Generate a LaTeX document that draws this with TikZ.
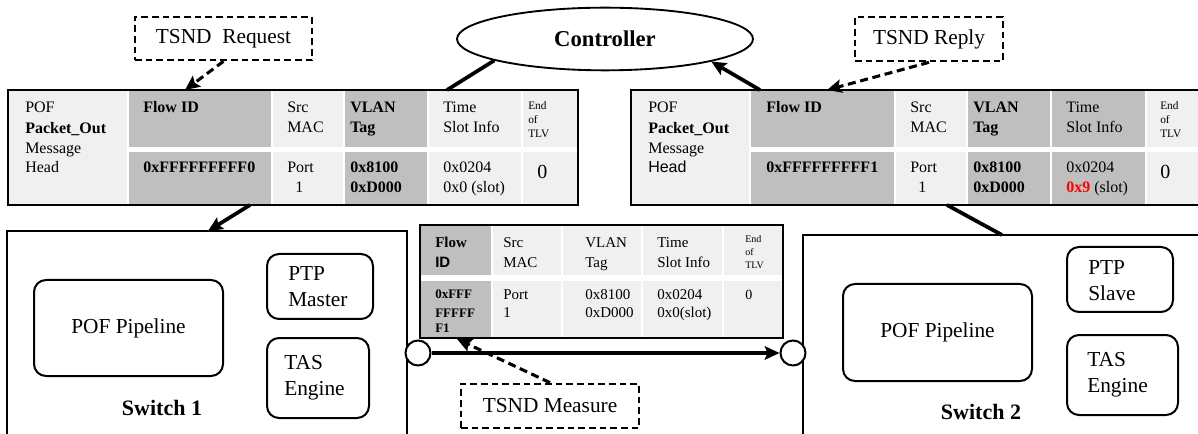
\documentclass[tikz,border=0pt]{standalone}
\usepackage{fontspec}
\setmainfont{Liberation Serif}
\setsansfont{Liberation Sans}
\usetikzlibrary{arrows.meta,shapes.geometric,fit}
\definecolor{dg}{HTML}{BFBFBF}
\definecolor{lg}{HTML}{F0F0F0}
\newcommand\cellr[5]{\fill[#5] ({#1+1.2},#2) rectangle ({#3-1.2},#4);}
\newcommand\mytx[5][]{\node[tx,#1] (#2) at (#3,#4) {#5};}
\begin{document}
\begin{tikzpicture}[x=0.75pt,y=-0.75pt,
  tx/.style={anchor=base west,inner sep=0pt,font=\fontsize{12}{14}\selectfont},
  sm/.style={font=\fontsize{8.5}{9}\selectfont},
  big/.style={font=\fontsize{15}{16}\selectfont},
  mid/.style={font=\fontsize{11.25}{13}\selectfont},
  midb/.style={font=\fontsize{9.75}{11}\selectfont\bfseries},
  midbig/.style={font=\fontsize{10.5}{12}\selectfont},
  frame/.style={draw=black,line width=1.6pt,inner sep=0pt},
  callout/.style={draw=black,line width=2pt,dash pattern=on 5pt off 3pt,inner sep=0pt,font=\fontsize{16}{19}\selectfont},
  swbox/.style={draw=black,line width=1.5pt,inner sep=0pt},
  unitbox/.style={draw=black,line width=1.5pt,rounded corners=9pt,inner sep=0pt,font=\fontsize{16}{19}\selectfont},
  unittext/.style={align=left,anchor=west,inner sep=0pt,font=\fontsize{16}{19.5}\selectfont},
  swlabel/.style={inner sep=0pt,font=\fontsize{16.5}{20}\selectfont\bfseries},
  port/.style={circle,draw=black,line width=1.5pt,fill=white,minimum size=18.75pt,inner sep=0pt},
  thickarr/.style={line width=2.8pt,-{Stealth[length=11pt,width=10pt,inset=2pt]}},
  thickln/.style={line width=2.8pt},
  dasharr/.style={line width=2.3pt,dash pattern=on 6pt off 3.5pt,-{Stealth[length=11pt,width=10pt,inset=2pt]}}
]
\useasboundingbox (0,0) rectangle (1198,434);
\fill[white] (0,0) rectangle (1198,434);
\begin{scope}
\clip (0,0) rectangle (1198,434);

% ---------- left table ----------
\fill[white] (8,90) rectangle (578,205);
\fill[lg] (8,90) rectangle (126.8,205);
\cellr{128}{90}{272}{147.5}{dg}  \cellr{128}{152.5}{272}{205}{dg}
\cellr{272}{90}{344}{147.5}{lg}  \cellr{272}{152.5}{344}{205}{lg}
\cellr{344}{90}{428}{147.5}{dg}  \cellr{344}{152.5}{428}{205}{dg}
\cellr{428}{90}{522}{147.5}{lg}  \cellr{428}{152.5}{522}{205}{lg}
\cellr{522}{90}{579}{147.5}{lg}  \cellr{522}{152.5}{579}{205}{lg}
\node[frame,fit={(8,90) (578,205)}] (lt) {};
\mytx{La1}{25}{113}{POF}
\mytx{La2}{25}{134}{\bfseries Packet\_Out}
\mytx{La3}{25}{154}{Message}
\mytx{La4}{25}{173}{Head}
\mytx{Lb1}{143}{113}{\bfseries Flow ID}
\mytx{Lb2}{143}{173}{\bfseries 0xFFFFFFFFF0}
\mytx{Lc1}{287}{113}{Src}
\mytx{Lc2}{287}{133}{MAC}
\mytx{Lc3}{287}{173}{Port}
\mytx{Lc4}{295}{193}{1}
\mytx{Ld1}{350}{113}{\bfseries VLAN}
\mytx{Ld2}{350}{133}{\bfseries Tag}
\mytx{Ld3}{350}{173}{\bfseries 0x8100}
\mytx{Ld4}{350}{193}{\bfseries 0xD000}
\mytx{Le1}{443}{113}{Time}
\mytx{Le2}{443}{133}{Slot Info}
\mytx{Le3}{443}{173}{0x0204}
\mytx{Le4}{443}{193}{0x0 (slot)}
\mytx[sm]{Lf1}{528}{110}{End}
\mytx[sm]{Lf2}{528}{124}{of}
\mytx[sm]{Lf3}{528}{138}{TLV}
\mytx[big]{Lf4}{537}{179}{0}

% ---------- right table ----------
\fill[white] (631,90) rectangle (1201,205);
\fill[lg] (631,90) rectangle (748.8,205);
\cellr{750}{90}{895}{147.5}{dg}  \cellr{750}{152.5}{895}{205}{dg}
\cellr{895}{90}{967}{147.5}{lg}  \cellr{895}{152.5}{967}{205}{lg}
\cellr{967}{90}{1051}{147.5}{dg} \cellr{967}{152.5}{1051}{205}{dg}
\cellr{1051}{90}{1146}{147.5}{dg} \cellr{1051}{152.5}{1146}{205}{dg}
\cellr{1146}{90}{1202}{147.5}{lg} \cellr{1146}{152.5}{1202}{205}{lg}
\node[frame,fit={(631,90) (1201,205)}] (rt) {};
\mytx{Ra1}{648}{113}{POF}
\mytx{Ra2}{648}{134}{\bfseries Packet\_Out}
\mytx{Ra3}{648}{154}{Message}
\mytx{Ra4}{648}{173}{\sffamily Head}
\mytx{Rb1}{766}{113}{\bfseries Flow ID}
\mytx{Rb2}{766}{173}{\bfseries 0xFFFFFFFFF1}
\mytx{Rc1}{910}{113}{Src}
\mytx{Rc2}{910}{133}{MAC}
\mytx{Rc3}{910}{173}{Port}
\mytx{Rc4}{918}{193}{1}
\mytx{Rd1}{973}{113}{\bfseries VLAN}
\mytx{Rd2}{973}{133}{\bfseries Tag}
\mytx{Rd3}{973}{173}{\bfseries 0x8100}
\mytx{Rd4}{973}{193}{\bfseries 0xD000}
\mytx{Re1}{1066}{113}{Time}
\mytx{Re2}{1066}{133}{Slot Info}
\mytx{Re3}{1066}{173}{0x0204}
\mytx{Re4}{1066}{193}{{\color{red}\bfseries 0x9} (slot)}
\mytx[sm]{Rf1}{1160}{110}{End}
\mytx[sm]{Rf2}{1160}{124}{of}
\mytx[sm]{Rf3}{1160}{138}{TLV}
\mytx[big]{Rf4}{1160}{179}{0}

% ---------- controller ----------
\node[ellipse,draw=black,line width=1.4pt,minimum width=222pt,minimum height=47pt,inner sep=0pt,
      font=\fontsize{17}{20}\selectfont\bfseries] (ctrl) at (605,39) {Controller};

% ---------- callouts ----------
\node[callout,fit={(135,17) (312,60)}] (req) {};
\node[inner sep=0pt,font=\fontsize{16}{19}\selectfont] (reqt) at (req.center) {TSND\ \ Request};
\node[callout,fit={(855,17) (1003,61)}] (rep) {};
\node[inner sep=0pt,font=\fontsize{16}{19}\selectfont] (rept) at (rep.center) {TSND Reply};
\node[callout,fit={(461,384) (639,428)}] (meas) {};
\node[inner sep=0pt,font=\fontsize{16}{19}\selectfont] (meast) at (meas.center) {TSND Measure};

% ---------- switches ----------
\node[swbox,fit={(7,231) (407,470)}] (sw1) {};
\node[swbox,fit={(803,235) (1215,470)}] (sw2) {};

\node[unitbox,fit={(34,280) (223,376)}] (pipe1) {};
\node[inner sep=0pt,font=\fontsize{16}{19}\selectfont] (pipe1t) at (pipe1.center) {POF Pipeline};
\node[unitbox,fit={(267,254) (373,319)}] (ptp1) {};
\node[unittext] (ptp1t) at (288,287) {PTP\\Master};
\node[unitbox,fit={(267,338) (369,418)}] (tas1) {};
\node[unittext] (tas1t) at (284,378) {TAS\\Engine};
\node[swlabel] (sw1l) at (162,408) {Switch 1};

\node[unitbox,fit={(843,284) (1032,381)}] (pipe2) {};
\node[inner sep=0pt,font=\fontsize{16}{19}\selectfont] (pipe2t) at (pipe2.center) {POF Pipeline};
\node[unitbox,fit={(1067,247) (1173,312)}] (ptp2) {};
\node[unittext] (ptp2t) at (1088,280.5) {PTP\\Slave};
\node[unitbox,fit={(1067,335) (1178,415)}] (tas2) {};
\node[unittext] (tas2t) at (1087,375) {TAS\\Engine};
\node[swlabel] (sw2l) at (981,412) {Switch 2};

% ---------- middle table ----------
\fill[white] (420,225) rectangle (783,338);
\cellr{420}{225}{492}{275}{dg}  \cellr{420}{281}{492}{338}{dg}
\cellr{492}{225}{562}{275}{lg}  \cellr{492}{281}{562}{338}{lg}
\cellr{562}{225}{642}{275}{lg}  \cellr{562}{281}{642}{338}{lg}
\cellr{642}{225}{723}{275}{lg}  \cellr{642}{281}{723}{338}{lg}
\cellr{723}{225}{783}{275}{lg}  \cellr{723}{281}{783}{338}{lg}
\fill[dg] (420,225) rectangle (490.8,275);
\fill[dg] (420,281) rectangle (490.8,338);
\node[frame,line width=1.8pt,fit={(420,225) (783,338)}] (mt) {};
\mytx[font=\fontsize{11.25}{13}\selectfont\bfseries]{Ma1}{435}{248}{Flow}
\mytx[font=\fontsize{11.25}{13}\selectfont\sffamily\bfseries]{Ma2}{435}{268}{ID}
\mytx[midb]{Ma3}{435}{299}{0xFFF}
\mytx[midb]{Ma4}{435}{317}{FFFFF}
\mytx[midb]{Ma5}{435}{332}{F1}
\mytx[mid]{Mb1}{503}{248}{Src}
\mytx[mid]{Mb2}{503}{268}{MAC}
\mytx[mid]{Mb3}{503}{300}{Port}
\mytx[mid]{Mb4}{503}{318}{1}
\mytx[mid]{Mc1}{585}{248}{VLAN}
\mytx[mid]{Mc2}{585}{268}{Tag}
\mytx[mid]{Mc3}{585}{300}{0x8100}
\mytx[mid]{Mc4}{585}{318}{0xD000}
\mytx[mid]{Md1}{657}{248}{Time}
\mytx[mid]{Md2}{657}{268}{Slot Info}
\mytx[mid]{Md3}{657}{300}{0x0204}
\mytx[mid]{Md4}{657}{318}{0x0(slot)}
\mytx[font=\fontsize{7.5}{9}\selectfont]{Me1}{745}{243}{End}
\mytx[font=\fontsize{7.5}{9}\selectfont]{Me2}{745}{256}{of}
\mytx[font=\fontsize{7.5}{9}\selectfont]{Me3}{745}{269}{TLV}
\mytx[midbig]{Me4}{745}{300}{0}

% ---------- ports and link ----------
\node[port] (p1) at (418,353) {};
\node[port] (p2) at (793,353) {};
\draw[thickarr] (p1) -- (p2);

% ---------- connectors ----------
\coordinate (ltin) at (447,90);
\coordinate (ltout) at (250,205);
\coordinate (sw1in) at (208,231);
\coordinate (rtout) at (760,90);
\coordinate (rtin) at (947,205);
\coordinate (sw2out) at (1002,235);
\coordinate (ltreq) at (185,90);
\coordinate (rtrep) at (827,90);
\coordinate (mtin) at (457,339);

\draw[thickln] (ctrl.191) -- (ltin);
\draw[thickarr] (ltout) -- (sw1in);
\draw[thickln] (sw2out) -- (rtin);
\draw[thickarr] (rtout) -- (ctrl.348);
\draw[dasharr] (req.south) -- (ltreq);
\draw[dasharr] (rep.south) -- (rtrep);
\draw[dasharr] (meas.north) -- (mtin);
\end{scope}
\end{tikzpicture}
\end{document}
